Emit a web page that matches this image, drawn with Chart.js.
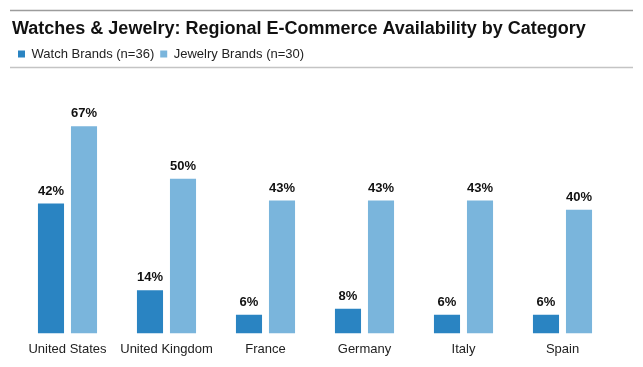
<!DOCTYPE html>
<html>
<head>
<meta charset="utf-8">
<script src="https://cdn.jsdelivr.net/npm/chart.js@4/dist/chart.umd.min.js"></script>
<style>
  html, body { margin: 0; padding: 0; background: #fff; }
  #wrap { width: 643px; height: 367px; position: relative; }
</style>
</head>
<body>
<div id="wrap"><canvas id="c"></canvas></div>
<script>
const CATEGORIES = ['United States', 'United Kingdom', 'France', 'Germany', 'Italy', 'Spain']
const WATCH = [42, 14, 6, 8, 6, 6]
const JEWELRY = [67, 50, 43, 43, 43, 40]

const WATCH_COLOR = '#2a84c2'
const JEWELRY_COLOR = '#7ab5dc'
const FONT = '"Liberation Sans", Arial, sans-serif'

// extra space under the legend, before the bars start
const legendGap = {
  id: 'legendGap',
  beforeInit(chart) {
    const fit = chart.legend.fit
    chart.legend.fit = function () {
      fit.bind(chart.legend)()
      this.height += 14
    }
  },
}

// the two grey rules above and below the header
const rules = {
  id: 'rules',
  afterDraw(chart) {
    const ctx = chart.ctx
    ctx.save()
    ctx.lineWidth = 1.5
    ctx.strokeStyle = '#9c9c9c'
    ctx.beginPath(); ctx.moveTo(10, 10.5); ctx.lineTo(633, 10.5); ctx.stroke()
    ctx.strokeStyle = '#c4c4c4'
    ctx.beginPath(); ctx.moveTo(10, 67.5); ctx.lineTo(633, 67.5); ctx.stroke()
    ctx.restore()
  },
}

const valueLabels = {
  id: 'valueLabels',
  afterDatasetsDraw(chart) {
    const ctx = chart.ctx
    ctx.save()
    ctx.font = 'bold 13px ' + FONT
    ctx.fillStyle = '#111'
    ctx.textAlign = 'center'
    ctx.textBaseline = 'bottom'
    chart.data.datasets.forEach((ds, i) => {
      chart.getDatasetMeta(i).data.forEach((bar, j) => {
        ctx.fillText(ds.data[j] + '%', bar.x, bar.y - 6)
      })
    })
    ctx.restore()
  },
}

new Chart(document.getElementById('c'), {
  type: 'bar',
  data: {
    labels: CATEGORIES,
    datasets: [
      { label: 'Watch Brands (n=36)', data: WATCH, backgroundColor: WATCH_COLOR },
      { label: 'Jewelry Brands (n=30)', data: JEWELRY, backgroundColor: JEWELRY_COLOR },
    ],
  },
  options: {
    responsive: true,
    maintainAspectRatio: false,
    animation: false,
    categoryPercentage: 0.667,
    barPercentage: 0.79,
    layout: { padding: { left: 12, right: 31, top: 0, bottom: 2 } },
    scales: {
      x: {
        grid: { display: false, drawTicks: false },
        border: { display: false },
        ticks: { color: '#222', font: { family: FONT, size: 13 }, padding: 8, maxRotation: 0 },
      },
      y: {
        min: 0,
        max: 80.5,
        afterFit(scale) { scale.width = 6 },
        grid: { display: false, drawTicks: false },
        border: { display: false },
        ticks: { display: false },
      },
    },
    plugins: {
      tooltip: { enabled: false },
      title: {
        display: true,
        align: 'start',
        text: 'Watches & Jewelry: Regional E-Commerce Availability by Category',
        color: '#111',
        font: { family: FONT, size: 18, weight: 'bold' },
        padding: { top: 18, bottom: 2 },
      },
      legend: {
        display: true,
        align: 'start',
        labels: {
          boxWidth: 7,
          boxHeight: 7,
          color: '#222',
          font: { family: FONT, size: 13 },
          padding: 6,
        },
      },
    },
  },
  plugins: [legendGap, rules, valueLabels],
})
</script>
</body>
</html>
